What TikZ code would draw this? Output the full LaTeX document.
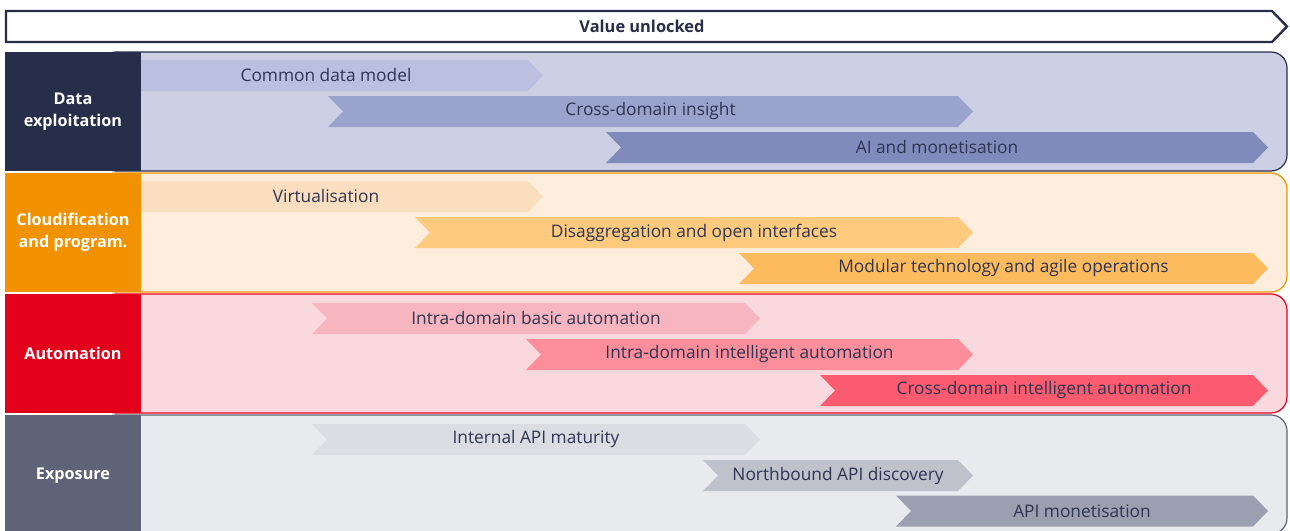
\documentclass[tikz,border=0pt]{standalone}
\usepackage{fontspec}
\setmainfont{Open Sans}
\usepackage{tikz}
\usetikzlibrary{positioning,calc}
\usepackage{xcolor}

\definecolor{navy}{HTML}{272E4A}
\definecolor{txtnavy}{HTML}{2E3452}
% data exploitation
\definecolor{dataBg}{HTML}{CBD0E4}
\definecolor{dataA}{HTML}{BAC0DD}
\definecolor{dataB}{HTML}{99A3CC}
\definecolor{dataC}{HTML}{808BBC}
% cloudification
\definecolor{cloudLbl}{HTML}{F39200}
\definecolor{cloudBg}{HTML}{FDEDDC}
\definecolor{cloudA}{HTML}{FADEC0}
\definecolor{cloudB}{HTML}{FECB7E}
\definecolor{cloudC}{HTML}{FDBB5E}
% automation
\definecolor{autoLbl}{HTML}{E2001A}
\definecolor{autoBg}{HTML}{F9D9DE}
\definecolor{autoA}{HTML}{F7B6BF}
\definecolor{autoB}{HTML}{FB8E9A}
\definecolor{autoC}{HTML}{FB5B6E}
% exposure
\definecolor{expoLbl}{HTML}{5E6378}
\definecolor{expoBg}{HTML}{E9EAEE}
\definecolor{expoA}{HTML}{DCDDE2}
\definecolor{expoB}{HTML}{BFC1CB}
\definecolor{expoC}{HTML}{9B9FAF}

% colour, left, right, mid y, notch, name, text
\newcommand{\band}[7]{%
  \fill[#1] (#2,#4-15.5) -- (#3-15,#4-15.5) -- (#3,#4) -- (#3-15,#4+15.5)
    -- (#2,#4+15.5) -- (#2+#5,#4) -- cycle;
  \node[bandtext] (#6) at ({(#2+#5+#3-15)/2},#4) {#7};
}

\begin{document}
\begin{tikzpicture}[x=1pt,y=-1pt,
    bandtext/.style={font=\fontsize{17.3}{20}\selectfont,text=txtnavy,inner sep=0pt},
    lanelabel/.style={font=\fontsize{16.2}{22}\selectfont\bfseries,text=white,align=center,inner sep=0pt},
    lanebox/.style={line width=1.2pt,rounded corners=16pt}]
    \useasboundingbox (0,0) rectangle (1290,530);

    % value arrow on top
    \draw[navy,line width=2.4pt,fill=white,line join=miter] (6,11) -- (1272,11) -- (1287,26.5) -- (1272,42) -- (6,42) -- cycle;
    \node[font=\fontsize{16.4}{20}\selectfont\bfseries,text=navy] (value) at (642,26.5) {Value unlocked};

    % Lane 1: data exploitation
    \draw[lanebox,draw=navy,fill=dataBg] (100,52) -- (1287,52) -- (1287,171) -- (100,171) -- cycle;
    \band{dataA}{109}{543}{75.5}{15}{cdm}{Common data model}
    \band{dataB}{328}{973}{111.5}{15}{cdi}{Cross-domain insight}
    \band{dataC}{606}{1268}{147.5}{15}{aim}{AI and monetisation}
    \fill[navy] (5,52) rectangle (141,171);
    \node[lanelabel] (data) at (73,111.5) {Data\\exploitation};

    % Lane 2: cloudification
    \draw[lanebox,draw=cloudLbl,fill=cloudBg] (100,173) -- (1287,173) -- (1287,292) -- (100,292) -- cycle;
    \band{cloudA}{109}{543}{196.5}{15}{virt}{Virtualisation}
    \band{cloudB}{415}{973}{232.5}{15}{disag}{Disaggregation and open interfaces}
    \band{cloudC}{739}{1268}{268.5}{15}{modt}{Modular technology and agile operations}
    \fill[cloudLbl] (5,173) rectangle (141,292);
    \node[lanelabel] (cloud) at (73,232.5) {Cloudification\\and program.};

    % Lane 3: automation
    \draw[lanebox,draw=autoLbl,fill=autoBg] (100,294) -- (1287,294) -- (1287,413) -- (100,413) -- cycle;
    \band{autoA}{312}{760}{318.5}{15}{intb}{Intra-domain basic automation}
    \band{autoB}{526}{973}{354.5}{15}{inti}{Intra-domain intelligent automation}
    \band{autoC}{820}{1268}{390.5}{15}{xdia}{Cross-domain intelligent automation}
    \fill[autoLbl] (5,294) rectangle (141,413);
    \node[lanelabel] (auto) at (73,353.5) {Automation};

    % Lane 4: exposure
    \draw[lanebox,draw=expoLbl,fill=expoBg] (100,415) -- (1287,415) -- (1287,534) -- (100,534) -- cycle;
    \band{expoA}{312}{760}{439.5}{15}{iapi}{Internal API maturity}
    \band{expoB}{703}{973}{475.5}{15}{nbapi}{Northbound API discovery}
    \band{expoC}{896}{1268}{511}{15}{apim}{API monetisation}
    \fill[expoLbl] (5,415) rectangle (141,534);
    \node[lanelabel] (expo) at (73,475.5) {Exposure};
\end{tikzpicture}
\end{document}
